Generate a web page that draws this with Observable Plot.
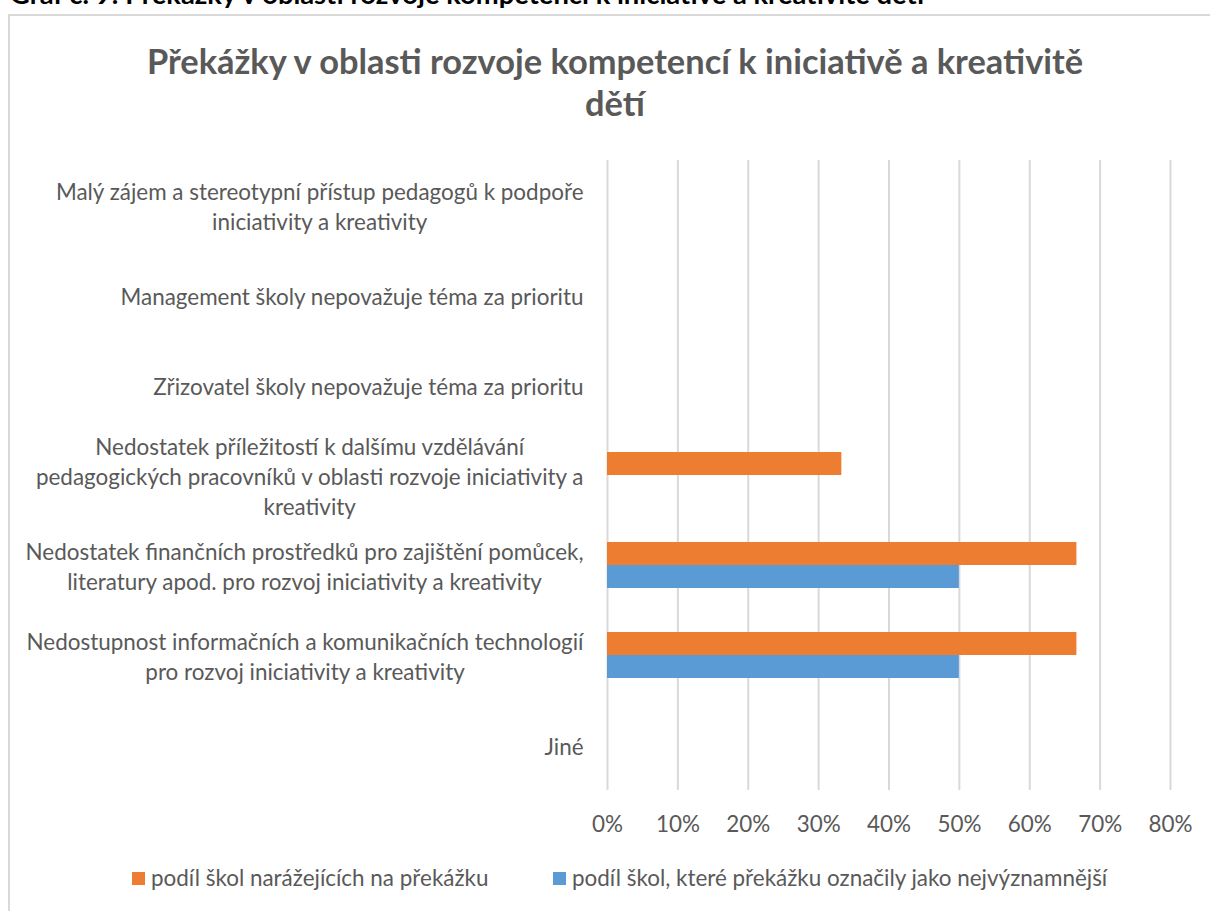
<!DOCTYPE html>
<html>
<head>
<meta charset="utf-8">
<script src="https://cdn.jsdelivr.net/npm/d3@7"></script>
<script src="https://cdn.jsdelivr.net/npm/@observablehq/plot@0.6"></script>
<style>
  html, body { margin: 0; padding: 0; background: #fff; }
  #wrap { position: relative; width: 1210px; height: 911px; overflow: hidden; font-family: Lato, "Noto Sans", sans-serif; }
  #frame { position: absolute; left: 8px; top: 14px; width: 1230px; height: 940px; border: 2px solid #d9d9d9; box-sizing: border-box; }
  #header { position: absolute; left: 10px; white-space: nowrap; font-weight: bold; color: #000; }
  #title { position: absolute; left: 8px; width: 1214px; text-align: center; font-weight: bold; color: #595959; }
  #chart { position: absolute; left: 0; top: 0; }
  .leg { position: absolute; white-space: nowrap; color: #595959; display: flex; align-items: center; }
  .sw { display: inline-block; width: 13px; height: 13px; margin-right: 6px; }
</style>
</head>
<body>
<div id="wrap">
  <div id="header"></div>
  <div id="frame"></div>
  <div id="title"></div>
  <div id="chart"></div>
  <div id="legend"></div>
</div>
<script>
// ---- data ----
const headerText = "Graf č. 9: Překážky v oblasti rozvoje kompetencí k iniciativě a kreativitě dětí";
const titleLines = ["Překážky v oblasti rozvoje kompetencí k iniciativě a kreativitě", "dětí"];
const categories = [
  "Malý zájem a stereotypní přístup pedagogů k podpoře\niniciativity a kreativity",
  "Management školy nepovažuje téma za prioritu",
  "Zřizovatel školy nepovažuje téma za prioritu",
  "Nedostatek příležitostí k dalšímu vzdělávání\npedagogických pracovníků v oblasti rozvoje iniciativity a\nkreativity",
  "Nedostatek finančních prostředků pro zajištění pomůcek,\nliteratury apod. pro rozvoj iniciativity a kreativity",
  "Nedostupnost informačních a komunikačních technologií\npro rozvoj iniciativity a kreativity",
  "Jiné"
];
const seriesNames = [
  "podíl škol narážejících na překážku",
  "podíl škol, které překážku označily jako nejvýznamnější"
];
const shareFacing = [0, 0, 0, 0.333, 0.667, 0.667, 0];
const shareMost   = [0, 0, 0, 0, 0.5, 0.5, 0];
const xTicks = [0, 0.1, 0.2, 0.3, 0.4, 0.5, 0.6, 0.7, 0.8];
const seriesColors = ["#ED7D31", "#5B9BD5"];

const rows = [];
categories.forEach((c, i) => {
  rows.push({category: c, series: seriesNames[0], value: shareFacing[i]});
  rows.push({category: c, series: seriesNames[1], value: shareMost[i]});
});

// ---- font fitting (sizes only) ----
const ctx = document.createElement("canvas").getContext("2d");
function fit(text, weight, target) {
  ctx.font = `${weight} 100px Lato`;
  return 100 * target / ctx.measureText(text).width;
}
const ASC = 0.987, DESC = 0.213;
function topForBaseline(baseline, fs, lh) {
  return baseline - ((lh - (ASC + DESC) * fs) / 2 + ASC * fs);
}

const labelFs = fit("Management školy nepovažuje téma za prioritu", "normal", 464);
const titleFs = fit(titleLines[0], "bold", 939);
const headerFs = fit(headerText, "bold", 917);

// header (mostly cut off at top)
const header = document.getElementById("header");
header.textContent = headerText;
header.style.fontSize = headerFs + "px";
header.style.lineHeight = headerFs + "px";
header.style.top = topForBaseline(4, headerFs, headerFs) + "px";

// title
const title = document.getElementById("title");
title.innerHTML = titleLines.join("<br>");
title.style.fontSize = titleFs + "px";
title.style.lineHeight = "42px";
title.style.top = topForBaseline(74, titleFs, 42) + "px";

// ---- chart ----
const chart = Plot.plot({
  width: 1210,
  height: 845,
  marginTop: 158,
  marginBottom: 53,
  marginLeft: 607,
  marginRight: 40,
  style: {fontFamily: "Lato, 'Noto Sans', sans-serif", fontSize: labelFs + "px", color: "#595959", background: "transparent"},
  x: {domain: [0, 0.8], axis: null},
  fy: {domain: categories, padding: 0, axis: null},
  y: {domain: seriesNames, paddingInner: 0, paddingOuter: 0.885, axis: null},
  color: {domain: seriesNames, range: seriesColors},
  marks: [
    Plot.gridX(xTicks, {stroke: "#d9d9d9", strokeWidth: 2, strokeOpacity: 1}),
    Plot.barX(rows, {x: "value", y: "series", fy: "category", fill: "series"}),
    Plot.axisX({ticks: xTicks, tickSize: 0, tickPadding: 26, tickFormat: d3.format(".0%"), label: null, fill: "#595959"}),
    Plot.text(categories, {fy: d => d, text: d => d, frameAnchor: "left", dx: -24, textAnchor: "end", lineHeight: 30 / labelFs, fill: "#595959"})
  ]
});
document.getElementById("chart").appendChild(chart);

// center each multi-line category label block about its own width (right-aligned block)
chart.querySelectorAll('g[aria-label="text"] text').forEach(t => {
  const spans = t.querySelectorAll("tspan");
  if (spans.length < 2) return;
  let maxW = 0;
  spans.forEach(s => { maxW = Math.max(maxW, s.getComputedTextLength()); });
  t.setAttribute("text-anchor", "middle");
  spans.forEach(s => s.setAttribute("x", -maxW / 2));
});

// ---- legend ----
const legend = document.getElementById("legend");
const legLeft = [132, 553];
seriesNames.forEach((name, i) => {
  const item = document.createElement("div");
  item.className = "leg";
  item.style.left = legLeft[i] + "px";
  item.style.fontSize = labelFs + "px";
  item.style.lineHeight = labelFs + "px";
  item.style.top = topForBaseline(887, labelFs, labelFs) + "px";
  const sw = document.createElement("span");
  sw.className = "sw";
  sw.style.background = seriesColors[i];
  item.appendChild(sw);
  item.appendChild(document.createTextNode(name));
  legend.appendChild(item);
});
</script>
</body>
</html>
